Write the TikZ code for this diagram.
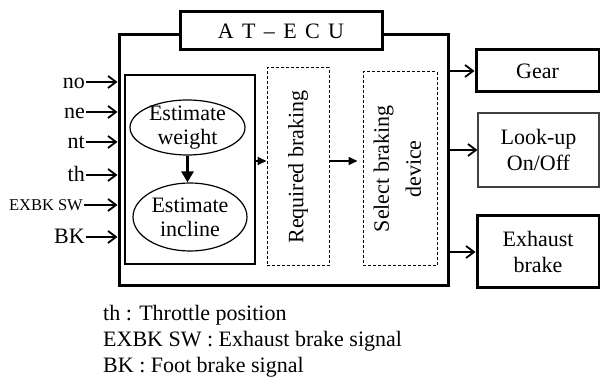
\documentclass[tikz,border=0pt]{standalone}
\usepackage{fontspec}
\setmainfont{Liberation Serif}
\usepackage{graphicx}
\usetikzlibrary{arrows.meta, positioning, calc, shapes.geometric}

\tikzset{
  mainfont/.style={font=\fontsize{22}{24}\selectfont},
  thickbox/.style={draw, line width=3pt, inner sep=0pt, align=center},
  thinbox/.style={draw, line width=1.1pt, inner sep=0pt, align=center},
  dashbox/.style={draw, dash pattern=on 3pt off 2pt, line width=1pt, inner sep=0pt},
  oval/.style={ellipse, draw, line width=1.2pt, inner xsep=0pt, inner ysep=-4pt, align=center},
  sig/.style={line width=2pt, -{Straight Barb[length=8pt,width=12pt,line width=1.8pt]}},
  flow/.style={line width=2pt, -{Triangle[length=9pt,width=8pt]}},
  insig/.style={anchor=east, inner sep=1pt, text height=14pt, text depth=0pt},
}

\begin{document}
\begin{tikzpicture}[x=1pt, y=-1pt, mainfont]
  \useasboundingbox (0,0) rectangle (600,387);

  % AT-ECU frame with its title tab
  \node[thickbox, minimum width=329pt, minimum height=251pt] (ecu) at (283.5,160.5) {};
  \node[thickbox, fill=white, minimum width=202pt, minimum height=38pt,
        font={\fontsize{22}{24}\selectfont\spaceskip=0.38em\relax}] (title) at (281,31) {A T – E C U};

  % estimation block
  \node[thinbox, minimum width=130pt, minimum height=189pt] (est) at (190,169.5) {};
  \node[oval, minimum width=115pt, minimum height=55pt] (wgt) at (187.5,127.5) {Estimate\\weight};
  \node[oval, minimum width=114pt, minimum height=68pt] (inc) at (190,217) {Estimate\\incline};
  \draw[line width=3.5pt, -{Triangle[length=11pt,width=12pt]}] (wgt.south) -- (wgt.south |- inc.north);

  % braking decisions
  \node[dashbox, minimum width=62pt, minimum height=198pt] (req) at (298,167)
    {\rotatebox{90}{Required braking}};
  \node[dashbox, minimum width=74pt, minimum height=194pt] (sel) at (400,169)
    {\rotatebox{90}{\begin{tabular}{@{}c@{}}Select braking\\[8pt]device\end{tabular}}};
  \coordinate (e2r) at ([yshift=8.5pt]est.east);
  \draw[flow] (e2r) -- (e2r -| req.west);
  \coordinate (r2s) at ([yshift=6pt]req.east);
  \draw[flow, shorten >=5pt] (r2s) -- (r2s -| sel.west);

  % input signals
  \foreach \name/\txt/\yy in {no/no/82, ne/ne/112, nt/nt/142, th/th/175, bk/BK/237} {
    \node[insig] (in-\name) at (86,\yy) {\txt};
    \draw[sig] (in-\name) -- (in-\name -| ecu.west);
  }
  \node[insig, font=\fontsize{16.5}{19}\selectfont, text height=11pt] (in-exbk) at (84,205) {EXBK SW};
  \draw[sig] (in-exbk) -- (in-exbk -| ecu.west);

  % outputs
  \node[thickbox, minimum width=123pt, minimum height=42pt] (gear) at (537.5,71) {Gear};
  \node[thinbox, draw=black!75, minimum width=121pt, minimum height=74pt,
        font=\fontsize{22}{26}\selectfont] (lock) at (538.5,150) {Look-up\\On/Off};
  \node[thickbox, minimum width=122pt, minimum height=72pt,
        font=\fontsize{22}{26}\selectfont] (exh) at (538,252) {Exhaust\\brake};
  \foreach \out in {gear, lock, exh}
    \draw[sig] (\out.west -| ecu.east) -- (\out.west);

  % legend
  \node[anchor=north west, inner sep=0pt, align=left, font=\fontsize{22}{26}\selectfont]
    (legend) at (103,305) {th : Throttle position\\EXBK SW : Exhaust brake signal\\BK : Foot brake signal};
\end{tikzpicture}
\end{document}
